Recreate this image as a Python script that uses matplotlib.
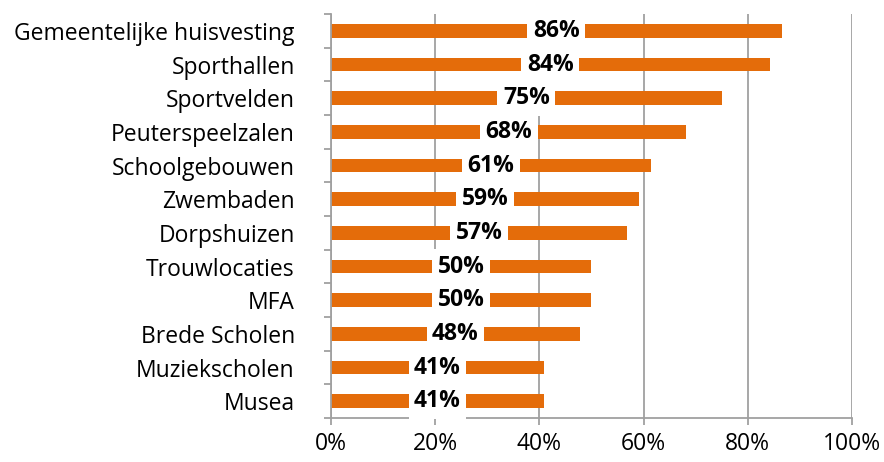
import matplotlib
matplotlib.use('Agg')
import matplotlib.pyplot as plt
from matplotlib.ticker import PercentFormatter

# data (top to bottom)
categories = ['Gemeentelijke huisvesting', 'Sporthallen', 'Sportvelden', 'Peuterspeelzalen',
              'Schoolgebouwen', 'Zwembaden', 'Dorpshuizen', 'Trouwlocaties', 'MFA',
              'Brede Scholen', 'Muziekscholen', 'Musea']
values = [86.5, 84.2, 75.0, 68.2, 61.4, 59.1, 56.8, 50.0, 50.0, 47.8, 40.9, 40.9]
xticks = [0, 20, 40, 60, 80, 100]

plt.rcParams['font.family'] = ['Open Sans', 'DejaVu Sans']
grey = '#a0a0a0'
orange = '#e46c0a'

fig = plt.figure(figsize=(8.84, 4.62), dpi=100)
ax = fig.add_axes([0.3744, 0.0952, 0.5894, 0.8745])

y = list(range(len(categories)))
ax.barh(y, values, height=0.4, color=orange, zorder=2)
ax.set_ylim(len(categories) - 0.5, -0.5)
ax.set_xlim(0, 100)

ax.set_yticks(y)
ax.set_yticklabels(categories, fontsize=16.5)
ax.tick_params(axis='y', length=0, pad=26)
ax.set_yticks([i + 0.5 for i in range(-1, len(categories))], minor=True)
ax.tick_params(axis='y', which='minor', length=5, color=grey, width=1.3)

ax.set_xticks(xticks)
ax.xaxis.set_major_formatter(PercentFormatter(decimals=0))
ax.tick_params(axis='x', labelsize=16.5, length=5, color=grey, width=1.3, pad=5)
ax.grid(axis='x', color=grey, linewidth=1.3, zorder=0)

for s in ['top', 'right']:
    ax.spines[s].set_visible(False)
for s in ['left', 'bottom']:
    ax.spines[s].set_color(grey)
    ax.spines[s].set_linewidth(1.3)

for yi, v in zip(y, values):
    ax.text(v / 2, yi, '{:.0f}%'.format(v), ha='center', va='center', fontsize=16.5,
            fontweight='bold', zorder=3,
            bbox=dict(facecolor='white', edgecolor='none', pad=4))

fig.savefig('out.png', dpi=100)
